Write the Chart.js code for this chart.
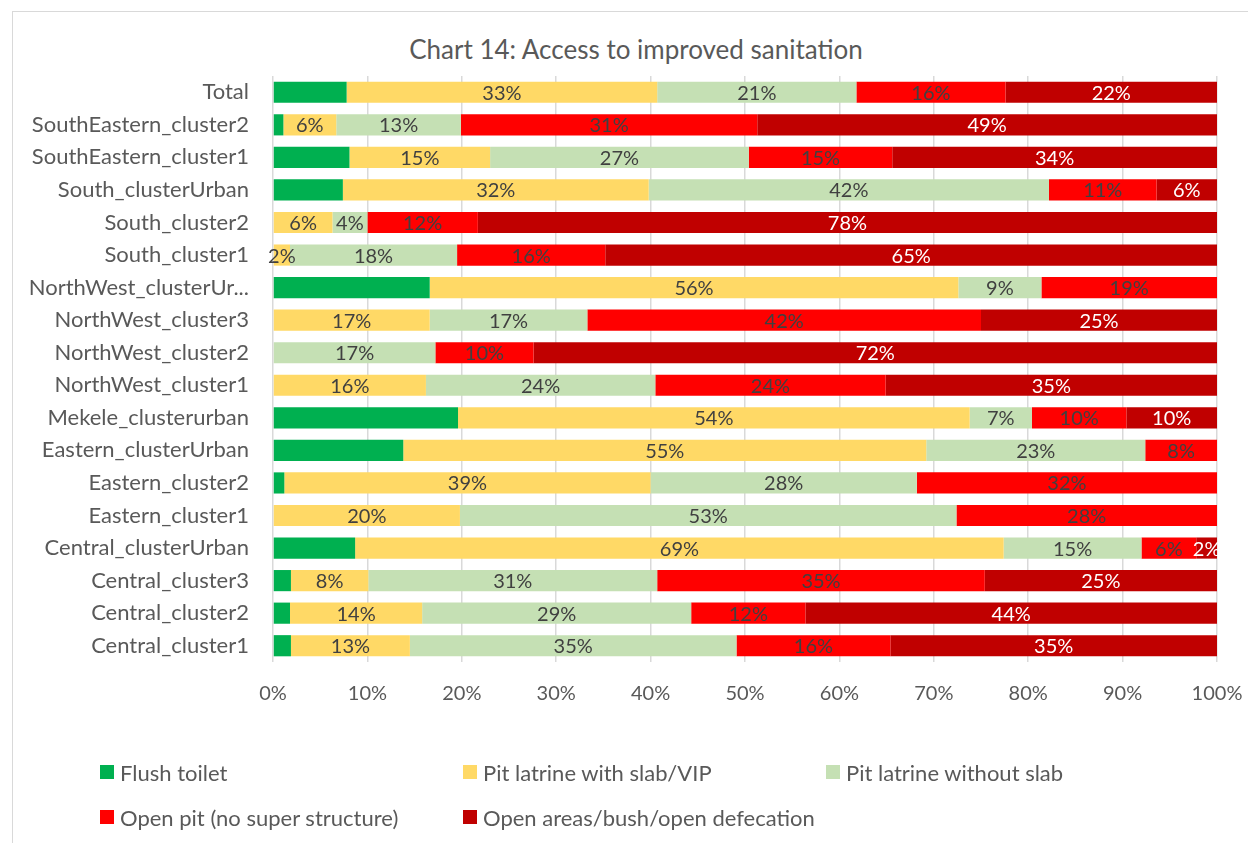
<!DOCTYPE html>
<html>
<head>
<meta charset="utf-8">
<script src="https://cdn.jsdelivr.net/npm/chart.js@4/dist/chart.umd.min.js"></script>
<style>
  html, body { margin: 0; padding: 0; background: #fff; overflow: hidden; }
  body { width: 1248px; height: 843px; position: relative; font-family: Lato, "Open Sans", sans-serif; }
  #frame { position: absolute; left: 12px; top: 11px; width: 1260px; height: 860px; border: 1.5px solid #d9d9d9; box-sizing: border-box; }
  #title { position: absolute; left: 12px; width: 1248px; top: 33px; text-align: center; font-size: 26px; color: #595959; }
  #chartWrap { position: absolute; left: 0; top: 0; width: 1248px; height: 843px; }
  #legend { position: absolute; left: 0; top: 0; width: 1248px; height: 843px; pointer-events: none; }
  .leg { position: absolute; display: flex; align-items: center; font-size: 22px; color: #595959; white-space: nowrap; }
  .leg span.box { width: 14px; height: 14px; margin-right: 6px; display: inline-block; }
</style>
</head>
<body>
<div id="frame"></div>
<div id="title">Chart 14: Access to improved sanitation</div>
<div id="chartWrap"><canvas id="sanitationChart" width="1248" height="843"></canvas></div>
<div id="legend"></div>
<script>
const categories = [
  "Total",
  "SouthEastern_cluster2",
  "SouthEastern_cluster1",
  "South_clusterUrban",
  "South_cluster2",
  "South_cluster1",
  "NorthWest_clusterUr...",
  "NorthWest_cluster3",
  "NorthWest_cluster2",
  "NorthWest_cluster1",
  "Mekele_clusterurban",
  "Eastern_clusterUrban",
  "Eastern_cluster2",
  "Eastern_cluster1",
  "Central_clusterUrban",
  "Central_cluster3",
  "Central_cluster2",
  "Central_cluster1"
];

const seriesNames = [
  "Flush toilet",
  "Pit latrine with slab/VIP",
  "Pit latrine without slab",
  "Open pit (no super structure)",
  "Open areas/bush/open defecation"
];

// percent of households, same order as categories
const flushToilet    = [7.8, 1.1, 8.1, 7.4, 0, 0, 16.6, 0, 0, 0, 19.6, 13.8, 1.2, 0, 8.7, 1.9, 1.8, 1.9];
const pitWithSlab    = [32.9, 5.6, 14.9, 32.4, 6.3, 1.8, 56.0, 16.6, 0, 16.2, 54.2, 55.4, 38.8, 19.8, 68.7, 8.2, 14.0, 12.6];
const pitWithoutSlab = [21.1, 13.2, 27.4, 42.4, 3.7, 17.7, 8.8, 16.7, 17.2, 24.3, 6.6, 23.2, 28.2, 52.6, 14.6, 30.6, 28.5, 34.6];
const openPit        = [15.8, 31.4, 15.2, 11.4, 11.7, 15.7, 18.6, 41.7, 10.4, 24.4, 10.0, 7.6, 31.8, 27.6, 5.8, 34.7, 12.1, 16.3];
const openDefecation = [22.4, 48.7, 34.4, 6.4, 78.3, 64.8, 0, 25.0, 72.4, 35.1, 9.6, 0, 0, 0, 2.2, 24.6, 43.6, 34.6];

const xTicks = [0, 10, 20, 30, 40, 50, 60, 70, 80, 90, 100];

const seriesColors = ["#00B050", "#FFD966", "#C5E0B4", "#FF0000", "#C00000"];
const labelColors = [null, "#404040", "#404040", "#404040", "#FFFFFF"];

const FONT = "Lato, 'Open Sans', sans-serif";
const TEXT = "#595959";

// values inside the segments (Flush toilet has none in the original)
const segmentLabels = {
  id: "segmentLabels",
  afterDatasetsDraw(chart) {
    const ctx = chart.ctx;
    ctx.save();
    ctx.font = "20px " + FONT;
    ctx.textAlign = "center";
    ctx.textBaseline = "middle";
    chart.data.datasets.forEach((ds, di) => {
      if (!labelColors[di]) {
        return;
      }
      const meta = chart.getDatasetMeta(di);
      meta.data.forEach((bar, i) => {
        const v = ds.data[i];
        if (!v) {
          return;
        }
        const p = bar.getProps(["x", "y", "base"], true);
        ctx.fillStyle = labelColors[di];
        ctx.fillText(Math.round(v) + "%", (p.x + p.base) / 2, p.y + 1);
      });
    });
    ctx.restore();
  }
};

const dataSeries = [flushToilet, pitWithSlab, pitWithoutSlab, openPit, openDefecation];

const chartConfig = {
  type: "bar",
  data: {
    labels: categories,
    datasets: dataSeries.map((values, i) => ({
      label: seriesNames[i],
      data: values,
      backgroundColor: seriesColors[i],
      borderWidth: 0,
      barPercentage: 0.65,
      categoryPercentage: 1.0
    }))
  },
  options: {
    indexAxis: "y",
    responsive: false,
    animation: false,
    layout: {
      padding: { top: 76, left: 12, right: 31, bottom: 131 }
    },
    plugins: {
      legend: { display: false },
      title: { display: false },
      tooltip: { enabled: false }
    },
    scales: {
      x: {
        stacked: true,
        min: 0,
        max: 100,
        afterBuildTicks: (scale) => {
          scale.ticks = xTicks.map((v) => ({ value: v }));
        },
        afterFit: (scale) => {
          scale.height = 50;
          scale.paddingLeft = 0;
          scale.paddingRight = 0;
        },
        grid: { color: "#D9D9D9", lineWidth: 1.5, drawTicks: false },
        border: { display: false },
        ticks: {
          padding: 20,
          color: TEXT,
          font: { family: FONT, size: 20 },
          callback: (v) => v + "%"
        }
      },
      y: {
        stacked: true,
        afterFit: (scale) => {
          scale.width = 261;
        },
        grid: { display: false, drawTicks: false },
        border: { display: false },
        ticks: {
          padding: 24,
          color: TEXT,
          font: { family: FONT, size: 22 }
        }
      }
    }
  },
  plugins: [segmentLabels]
};

const canvas = document.getElementById("sanitationChart");
new Chart(canvas.getContext("2d"), chartConfig);

// legend laid out in columns like the original
const legendPos = [
  [100, 772], [463, 772], [826, 772],
  [100, 817], [463, 817]
];
const legend = document.getElementById("legend");
seriesNames.forEach((name, i) => {
  const item = document.createElement("div");
  item.className = "leg";
  item.style.left = legendPos[i][0] + "px";
  item.style.top = (legendPos[i][1] - 12) + "px";
  item.style.height = "24px";
  const box = document.createElement("span");
  box.className = "box";
  box.style.background = seriesColors[i];
  item.appendChild(box);
  item.appendChild(document.createTextNode(name));
  legend.appendChild(item);
});
</script>
</body>
</html>
